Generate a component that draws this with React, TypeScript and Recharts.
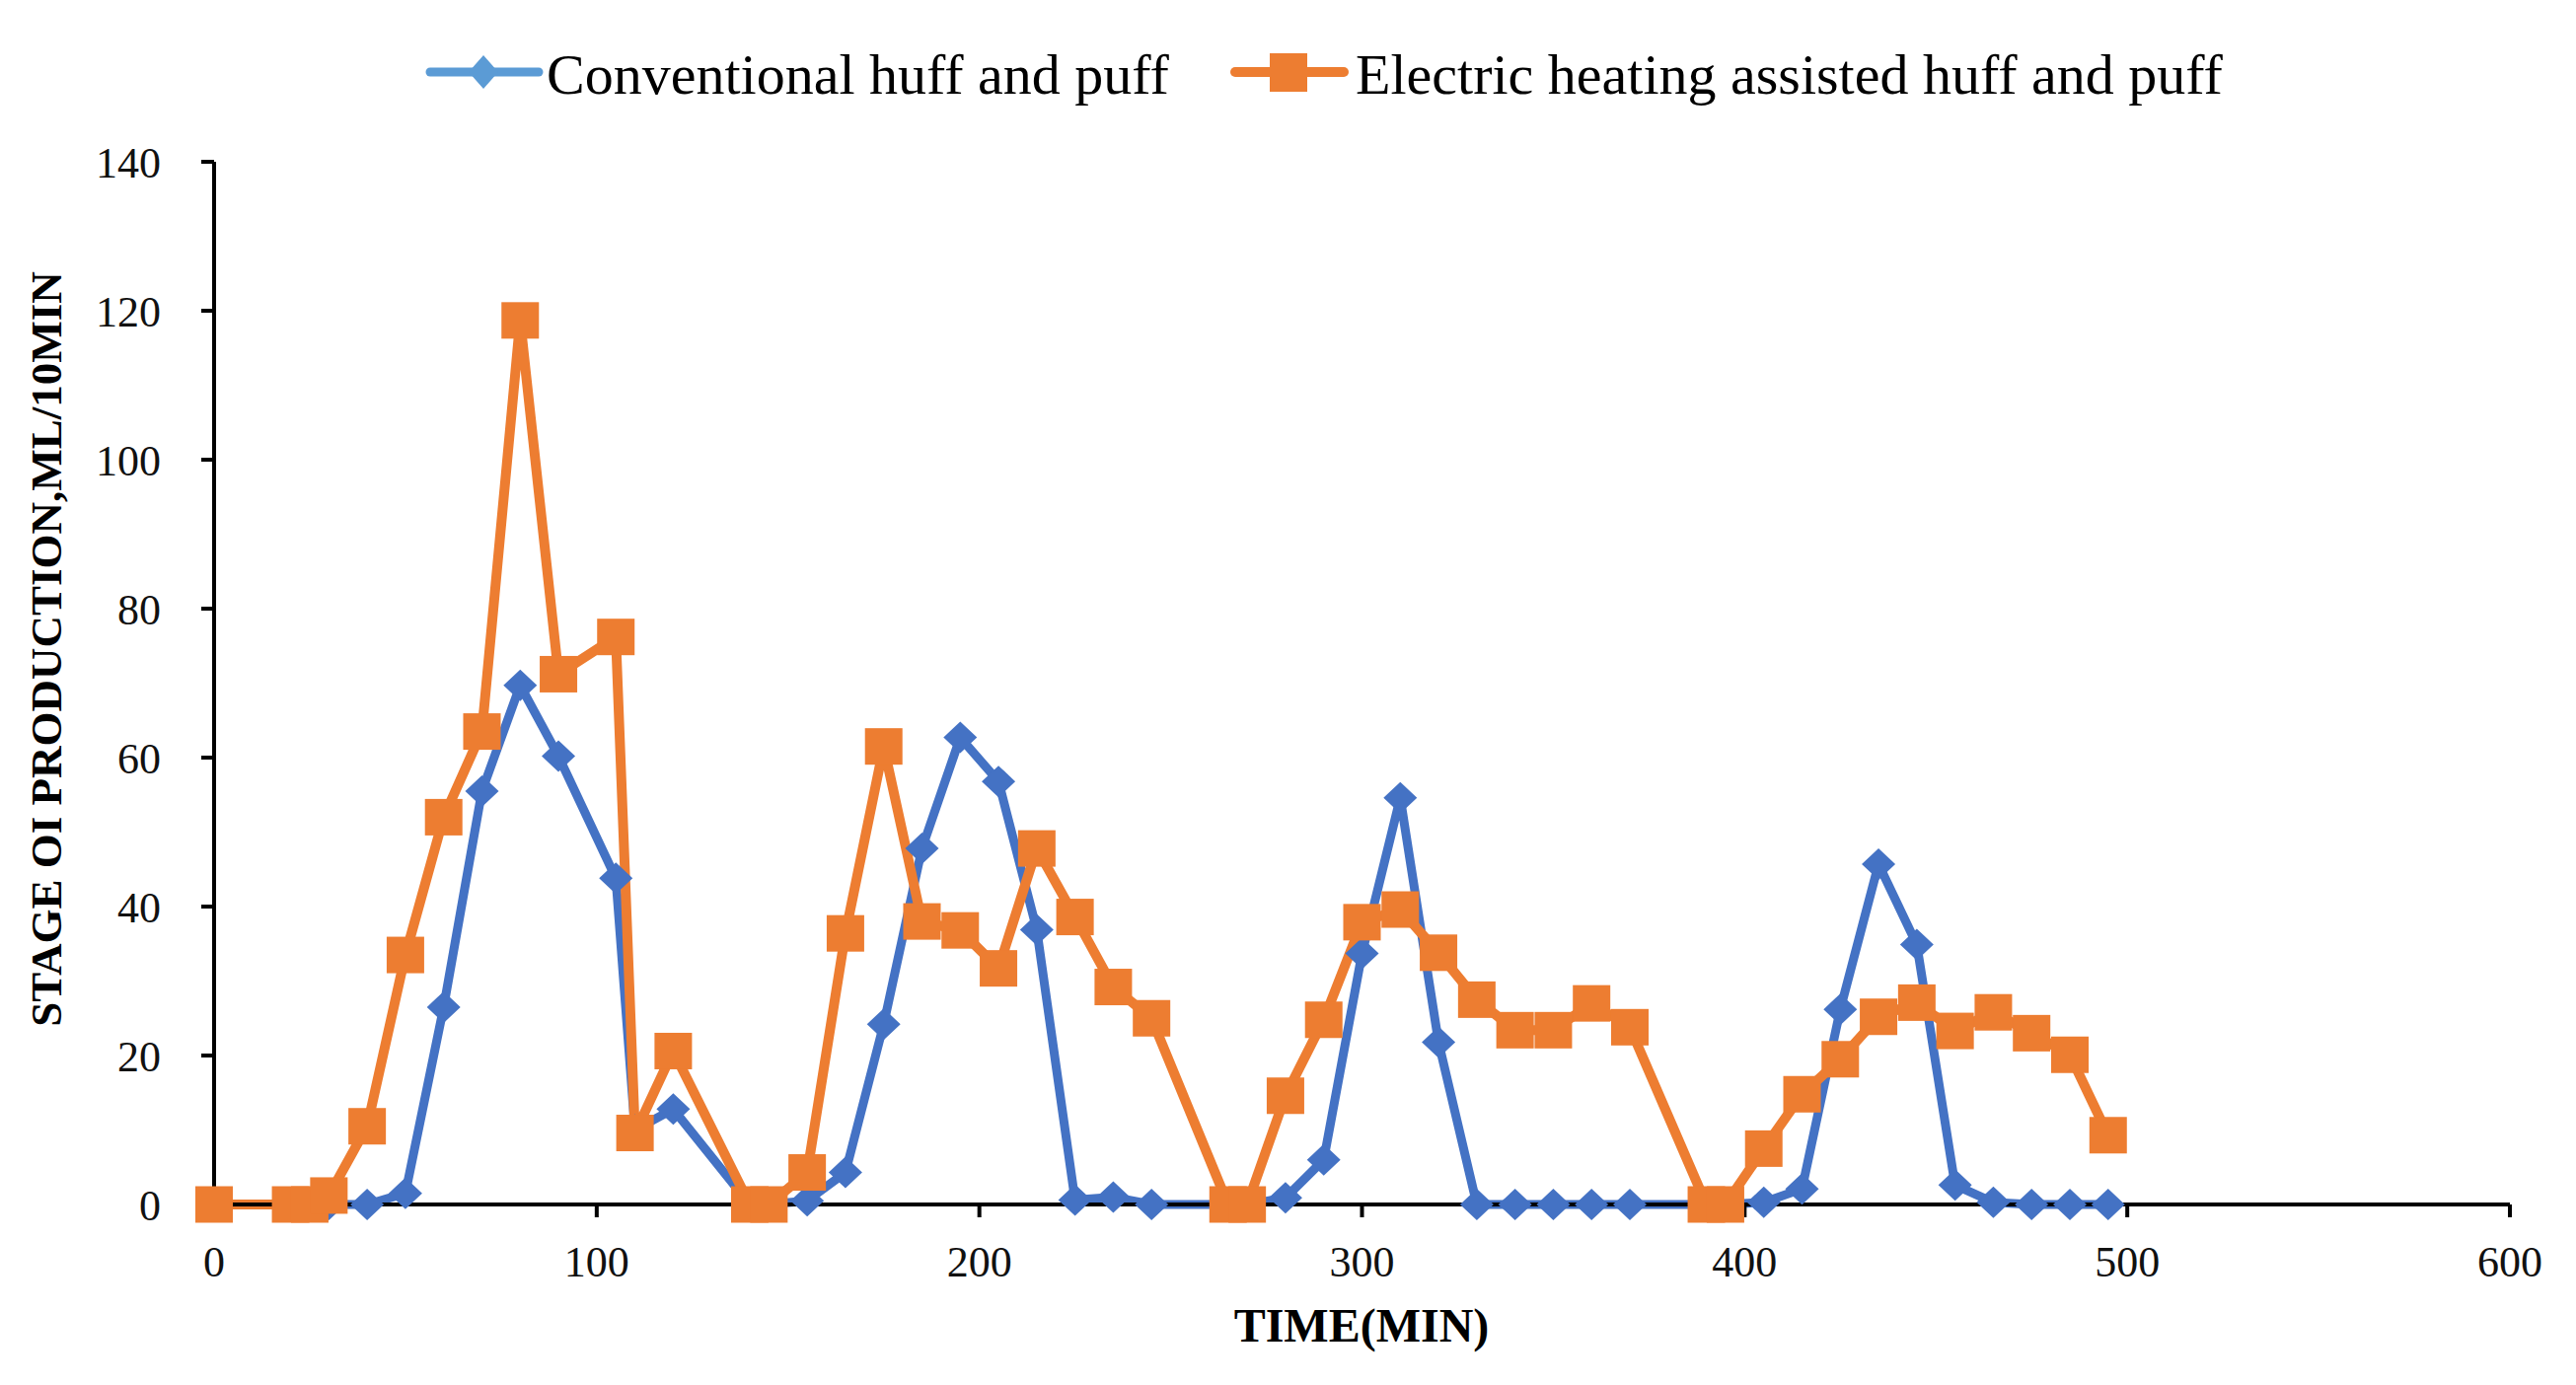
import React from 'react';
import { LineChart, Line, XAxis, YAxis, Label } from 'recharts';

// time (min) of each stage sample
const times = [0, 20, 25, 30, 40, 50, 60, 70, 80, 90, 105, 110, 120, 140, 145, 155, 165, 175, 185, 195, 205, 215, 225, 235, 245, 265, 270, 280, 290, 300, 310, 320, 330, 340, 350, 360, 370, 390, 395, 405, 415, 425, 435, 445, 455, 465, 475, 485, 495];

// Conventional huff and puff (mL / 10 min)
const conventionalValues = [0, 0, 0, 0, 0, 1.5, 26.5, 55.5, 69.7, 60.2, 43.8, 10, 12.8, 0, 0, 0.5, 4.3, 24.2, 47.8, 62.7, 56.8, 36.9, 0.6, 1.0, 0, 0, 0, 0.9, 6, 33.7, 54.6, 21.8, 0, 0, 0, 0, 0, 0, 0, 0.3, 2.1, 26.2, 45.7, 34.9, 2.6, 0.3, 0, 0, 0];

// Electric heating assisted huff and puff (mL / 10 min)
const heatingValues = [0, 0, 0, 1.2, 10.5, 33.5, 52, 63.5, 118.7, 71.2, 76.2, 9.6, 20.6, 0, 0, 4.3, 36.4, 61.5, 38, 36.8, 31.7, 47.8, 38.6, 29.2, 25, 0, 0, 14.6, 24.8, 37.9, 39.6, 33.8, 27.5, 23.4, 23.4, 27, 23.8, 0, 0, 7.5, 14.8, 19.5, 25.2, 27.1, 23.3, 25.8, 23, 20.1, 9.3];

const xTicks = [0, 100, 200, 300, 400, 500, 600];
const yTicks = [0, 20, 40, 60, 80, 100, 120, 140];

const seriesNames = ['Conventional huff and puff', 'Electric heating assisted huff and puff'];

const BLUE = '#4472C4';
const BLUE_LEGEND = '#5B9BD5';
const ORANGE = '#ED7D31';
const FONT = '"Liberation Serif", "Times New Roman", serif';

const data = times.map((t, i) => ({
  t,
  conventional: conventionalValues[i],
  heating: heatingValues[i],
}));

const DiamondDot = (props: any) => {
  const { cx, cy, index } = props;
  if (cx == null || cy == null) return <g key={`dg${index}`} />;
  const rx = 17;
  const ry = 16;
  return (
    <path
      key={`d${index}`}
      d={`M${cx},${cy - ry}L${cx + rx},${cy}L${cx},${cy + ry}L${cx - rx},${cy}Z`}
      fill={BLUE}
    />
  );
};

const SquareDot = (props: any) => {
  const { cx, cy, index } = props;
  if (cx == null || cy == null) return <g key={`sg${index}`} />;
  const w = 38;
  const h = 37;
  return <rect key={`s${index}`} x={cx - w / 2} y={cy - h / 2} width={w} height={h} fill={ORANGE} />;
};

const LegendOverlay = () => (
  <svg
    width={2611}
    height={150}
    style={{ position: 'absolute', left: 0, top: 0, pointerEvents: 'none' }}
  >
    <line x1={436} y1={73} x2={546} y2={73} stroke={BLUE_LEGEND} strokeWidth={9} strokeLinecap="round" />
    <path d="M490,56L505,73L490,90L475,73Z" fill={BLUE_LEGEND} />
    <text x={554} y={75} fontFamily={FONT} fontSize={58} fill="#000" dominantBaseline="central">
      {seriesNames[0]}
    </text>
    <line x1={1252} y1={73} x2={1362} y2={73} stroke={ORANGE} strokeWidth={10} strokeLinecap="round" />
    <rect x={1287} y={54} width={38} height={39} fill={ORANGE} />
    <text x={1374} y={75} fontFamily={FONT} fontSize={58} fill="#000" dominantBaseline="central">
      {seriesNames[1]}
    </text>
  </svg>
);

export default function App() {
  return (
    <div
      style={{
        position: 'absolute',
        left: 0,
        top: 0,
        width: 2611,
        height: 1404,
        background: '#fff',
        overflow: 'hidden',
      }}
    >
      <LineChart
        width={2611}
        height={1404}
        data={data}
        margin={{ top: 164, right: 67, bottom: 0, left: 0 }}
      >
        <XAxis
          type="number"
          dataKey="t"
          domain={[0, 600]}
          ticks={xTicks}
          interval={0}
          height={183}
          tickSize={13}
          tickMargin={29}
          axisLine={{ stroke: '#000', strokeWidth: 4 }}
          tickLine={{ stroke: '#000', strokeWidth: 4 }}
          tick={{ fontSize: 44, fill: '#111', fontFamily: FONT }}
        >
          <Label
            content={() => (
              <text
                x={1380}
                y={1343}
                textAnchor="middle"
                dominantBaseline="central"
                fontFamily={FONT}
                fontWeight="bold"
                fontSize={48}
                fill="#000"
              >
                TIME(MIN)
              </text>
            )}
          />
        </XAxis>
        <YAxis
          type="number"
          domain={[0, 140]}
          ticks={yTicks}
          interval={0}
          width={217}
          tickSize={13}
          tickMargin={41}
          axisLine={{ stroke: '#000', strokeWidth: 4 }}
          tickLine={{ stroke: '#000', strokeWidth: 4 }}
          tick={{ fontSize: 44, fill: '#111', fontFamily: FONT }}
        >
          <Label
            content={() => (
              <text
                x={47}
                y={658}
                transform="rotate(-90 47 658)"
                textAnchor="middle"
                dominantBaseline="central"
                fontFamily={FONT}
                fontWeight="bold"
                fontSize={45}
                fill="#000"
              >
                STAGE OI PRODUCTION,ML/10MIN
              </text>
            )}
          />
        </YAxis>
        <Line
          type="linear"
          dataKey="conventional"
          name={seriesNames[0]}
          stroke={BLUE}
          strokeWidth={9}
          dot={DiamondDot}
          activeDot={false}
          isAnimationActive={false}
        />
        <Line
          type="linear"
          dataKey="heating"
          name={seriesNames[1]}
          stroke={ORANGE}
          strokeWidth={10}
          dot={SquareDot}
          activeDot={false}
          isAnimationActive={false}
        />
      </LineChart>
      <LegendOverlay />
    </div>
  );
}
